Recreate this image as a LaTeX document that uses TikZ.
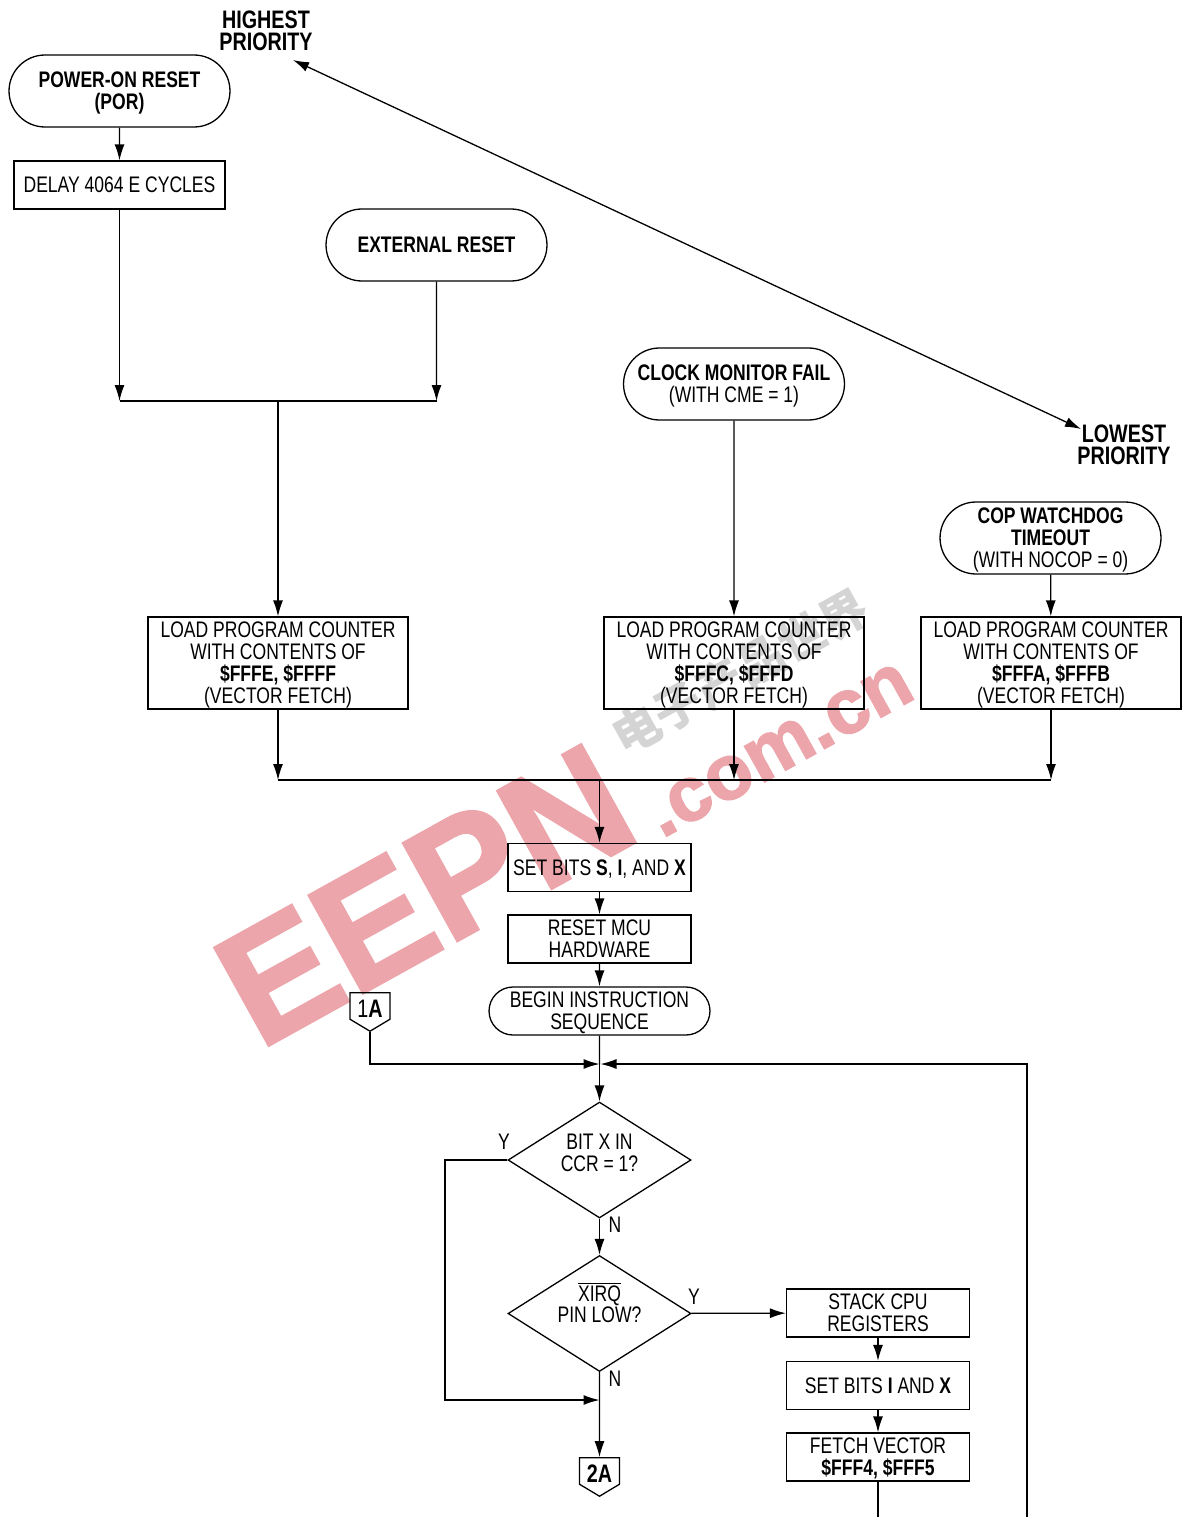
\documentclass[tikz,border=0pt]{standalone}
\usepackage{fontspec}
\setmainfont[FakeStretch=0.78]{Liberation Sans}
\newfontfamily\marksfont[BoldFeatures={FakeBold=2}]{Liberation Sans}
\newfontfamily\cjkfont{Noto Sans CJK SC}
\usetikzlibrary{arrows.meta,shapes.misc,shapes.geometric,shapes.symbols}
\definecolor{markred}{HTML}{EBA5AB}
\definecolor{markgrey}{HTML}{D4D4D4}
\tikzset{
  >={Latex[length=0.32cm,width=0.2cm]},
  flow/.style={line width=0.026cm,font=\fontsize{12.8}{12.5}\selectfont,align=center},
  base/.style={flow,draw,inner sep=0pt,text depth=0pt},
  terminal/.style={base,rounded rectangle,minimum width=4.42cm,minimum height=#1},
  terminal/.default=1.44cm,
  process/.style={base,rectangle,minimum width=3.66cm,minimum height=0.96cm},
  load/.style={base,rectangle,minimum width=5.2cm,minimum height=1.84cm},
  decision/.style={base,diamond,aspect=1.58,minimum width=3.66cm,minimum height=2.32cm,text depth=0.28cm},
  offpage/.style={base,signal,signal to=south,signal from=nowhere,signal pointer angle=118,
    minimum width=0.8cm,minimum height=0.68cm,font=\fontsize{14.4}{14.4}\selectfont,
    execute at begin node={\rule{0pt}{12.6pt}}},
  caption/.style={flow,inner sep=0pt},
  priority/.style={caption,font=\fontsize{14.4}{12.5}\selectfont\bfseries}
}
\begin{document}
\begin{tikzpicture}[x=0.02cm,y=-0.02cm,line width=0.026cm]
    \useasboundingbox (0,0) rectangle (1186,1517);

    % watermark goes under the chart
    \node[rotate=29,text=markred,inner sep=0pt,font=\marksfont\bfseries\fontsize{92}{92}\selectfont] at (425,895) (markmain) {EEPN};
    \node[rotate=29,text=markred,inner sep=0pt,font=\marksfont\bfseries\fontsize{44}{44}\selectfont] at (780,750) (markdom) {.com.cn};
    \node[rotate=29,text=markgrey,inner sep=0pt,font=\cjkfont\bfseries\fontsize{27}{27}\selectfont] at (740,672) (markcjk) {电子产品世界};

    \node[priority] at (266,31) (high) {HIGHEST\\PRIORITY};
    \node[priority] at (1124,445) (low) {LOWEST\\PRIORITY};

    \node[terminal] at (119.5,91) (por) {\textbf{POWER-ON RESET}\\\textbf{(POR)}};
    \node[process,minimum width=4.22cm] at (119.5,185) (delay) {DELAY 4064 E CYCLES};
    \node[terminal] at (436.5,245) (ext) {\textbf{EXTERNAL RESET}};
    \node[terminal] at (734,384) (clock) {\textbf{CLOCK MONITOR FAIL}\\(WITH CME = 1)};
    \node[terminal] at (1050.5,538) (cop) {\textbf{COP WATCHDOG}\\\textbf{TIMEOUT}\\(WITH NOCOP = 0)};

    \node[load] at (278,663) (loadext) {LOAD PROGRAM COUNTER\\WITH CONTENTS OF\\\textbf{\$FFFE, \$FFFF}\\(VECTOR FETCH)};
    \node[load] at (734,663) (loadclk) {LOAD PROGRAM COUNTER\\WITH CONTENTS OF\\\textbf{\$FFFC, \$FFFD}\\(VECTOR FETCH)};
    \node[load] at (1051,663) (loadcop) {LOAD PROGRAM COUNTER\\WITH CONTENTS OF\\\textbf{\$FFFA, \$FFFB}\\(VECTOR FETCH)};

    \node[process] at (599.5,867.5) (setsix) {SET BITS \textbf{S}, \textbf{I}, AND \textbf{X}};
    \node[process] at (599.5,939) (hw) {RESET MCU\\HARDWARE};
    \node[terminal=0.96cm] at (599.5,1011) (begin) {BEGIN INSTRUCTION\\SEQUENCE};

    \node[offpage] at (370,1006) (tagone) {1\textbf{A}};
    \node[decision] at (599.5,1160) (bitx) {BIT X IN\\CCR = 1?};
    \node[decision,text depth=0.06cm] at (599.5,1313.5) (xirq) {\smash{$\overline{\mbox{XIRQ}}$}\\PIN LOW?};
    \node[offpage] at (599.5,1471) (tagtwo) {\textbf{2A}};

    \node[process] at (878,1313) (stack) {STACK CPU\\REGISTERS};
    \node[process] at (878,1385.5) (setix) {SET BITS \textbf{I} AND \textbf{X}};
    \node[process] at (878,1457) (fetch) {FETCH VECTOR\\\textbf{\$FFF4, \$FFF5}};

    \node[caption] at (504,1142) (ybit) {Y};
    \node[caption] at (615,1225) (nbit) {N};
    \node[caption] at (694,1297) (yxirq) {Y};
    \node[caption] at (615,1379) (nxirq) {N};

    \coordinate (jpor) at (119.5,401);
    \coordinate (jext) at (436.5,401);
    \coordinate (jtop) at (278,401);
    \coordinate (jleft) at (278,780);
    \coordinate (jmid) at (734,780);
    \coordinate (jright) at (1051,780);
    \coordinate (jset) at (599.5,780);
    \coordinate (jloop) at (599.5,1064);
    \coordinate (jloopr) at (600.5,1064);
    \coordinate (cloop) at (1027,1064);
    \coordinate (eloop) at (1027,1517);
    \coordinate (efetch) at (878,1517);
    \coordinate (cbit) at (445,1160);
    \coordinate (cbitb) at (445,1400);
    \coordinate (jout) at (599.5,1400);
    \coordinate (prioa) at (293,60);
    \coordinate (priob) at (1081,429);

    \draw (jpor) -- (jext);
    \draw (jleft) -- (jright);
    \draw (begin) -- (jloop);
    \draw (fetch) -- (efetch);

    \path[->]
    (prioa) edge [<->] (priob)

    (por) edge (delay)
    (delay) edge (jpor)
    (ext) edge (jext)
    (jtop) edge (loadext)
    (clock) edge (loadclk)
    (cop) edge (loadcop)

    (loadext) edge (jleft)
    (loadclk) edge (jmid)
    (loadcop) edge (jright)

    (jset) edge (setsix)
    (setsix) edge (hw)
    (hw) edge (begin)

    (jloop) edge (bitx)
    (bitx) edge (xirq)
    (xirq) edge (tagtwo)

    (xirq) edge (stack)
    (stack) edge (setix)
    (setix) edge (fetch)
    ;

    \draw[->] (tagone.south) |- (jloop);
    \draw[->] (eloop) -- (cloop) -- (jloopr);
    \draw[->] (bitx.west) -- (cbit) -- (cbitb) -- (jout);
\end{tikzpicture}
\end{document}
